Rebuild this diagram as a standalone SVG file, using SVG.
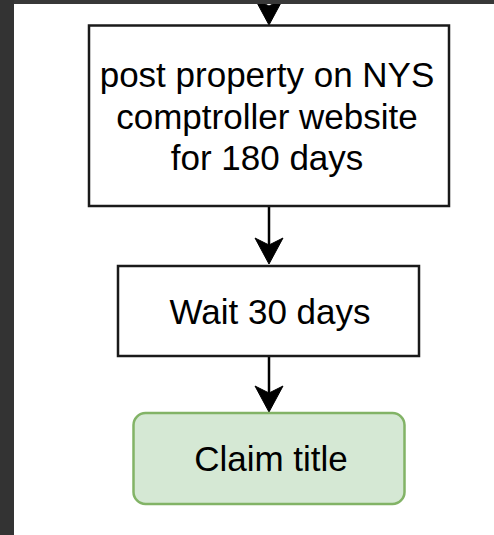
<svg xmlns="http://www.w3.org/2000/svg" width="494" height="535" viewBox="0 0 494 535">
  <style>
    .box { fill: #ffffff; stroke: #1a1a1a; stroke-width: 2.5; }
    .done { fill: #d5e8d4; stroke: #82b366; stroke-width: 2.5; }
    .lbl { font-family: "Liberation Sans", Arial, sans-serif; font-size: 35px; fill: #000000; text-anchor: middle; }
    .edge { stroke: #000000; stroke-width: 2.5; fill: none; }
    .head { fill: #000000; stroke: #000000; stroke-width: 1; stroke-linejoin: miter; }
  </style>
  <rect x="0" y="0" width="494" height="535" fill="#ffffff"/>
  <g id="connectors">
    <polygon class="head" points="269,25 255,-1 269,6 283,-1"/>
    <line class="edge" x1="269" y1="207" x2="269" y2="246"/>
    <polygon class="head" points="269,264 255,238 269,245 283,238"/>
    <line class="edge" x1="269" y1="357" x2="269" y2="394"/>
    <polygon class="head" points="269,412 255,386 269,393 283,386"/>
  </g>
  <g id="node-post">
    <rect class="box" x="89" y="25.5" width="360" height="180.5"/>
    <text class="lbl" x="267" y="87">post property on NYS</text>
    <text class="lbl" x="267" y="129">comptroller website</text>
    <text class="lbl" x="267" y="170">for 180 days</text>
  </g>
  <g id="node-wait">
    <rect class="box" x="118" y="266" width="301" height="90"/>
    <text class="lbl" x="270" y="324">Wait 30 days</text>
  </g>
  <g id="node-claim">
    <rect class="done" x="133.5" y="413" width="271" height="91" rx="12" ry="12"/>
    <text class="lbl" x="271" y="471">Claim title</text>
  </g>
  <g id="frame">
    <rect x="0" y="0" width="494" height="4" fill="#383838"/>
    <rect x="0" y="0" width="14" height="535" fill="#333333"/>
  </g>
</svg>
